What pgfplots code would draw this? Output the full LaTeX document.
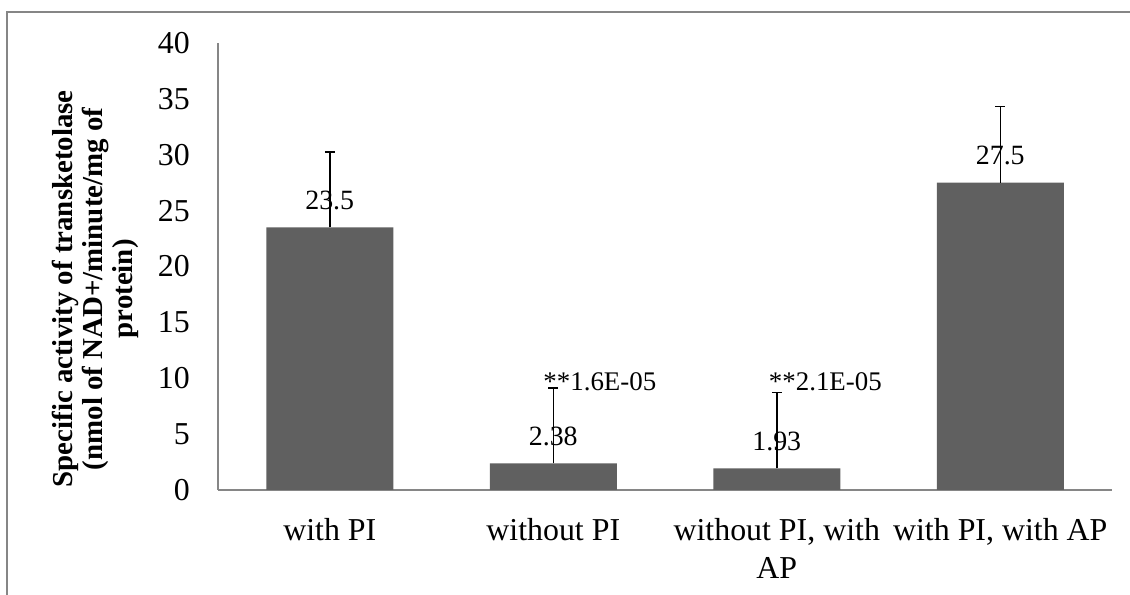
\documentclass[border=0pt]{standalone}
\usepackage{pgfplots}
\pgfplotsset{compat=1.18}
\usepackage{fontspec}
\setmainfont{Liberation Serif}
\definecolor{barc}{RGB}{96,96,96}
\definecolor{axc}{RGB}{134,134,134}
\pgfplotstableread{
x y e lab
0 23.5 6.75 23.5
1 2.38 6.75 2.38
2 1.93 6.8 1.93
3 27.5 6.8 27.5
}\datatab
\begin{document}
\begin{tikzpicture}[x=1bp,y=1bp]
\useasboundingbox (0,0) rectangle (1130,595);
\draw[axc, line width=1.5bp] (7,0) -- (7,583) -- (1130,583);
\begin{axis}[
  at={(218bp,105bp)}, anchor=south west,
  scale only axis, width=894bp, height=447bp,
  ymin=0, ymax=40, xmin=-0.5, xmax=3.5,
  axis x line*=bottom, axis y line*=left,
  axis line style={axc, line width=1.5bp},
  major tick length=0pt,
  ytick={0,5,...,40},
  xtick={0,1,2,3},
  xticklabels={with PI, without PI, {without PI, with\\AP}, {with PI, with AP}},
  xticklabel style={align=center, inner sep=0pt, yshift=-28bp, font=\fontsize{32}{38}\selectfont},
  yticklabel style={inner sep=0pt, xshift=-28bp, font=\fontsize{32}{36}\selectfont},
  /pgf/number format/assume math mode=true,
  ylabel={Specific activity of transketolase\\(nmol of NAD+/minute/mg of\\protein)},
  ylabel style={align=center, font=\bfseries\fontsize{29}{30}\selectfont, at={(axis description cs:-0.137,0.45)}, anchor=center, rotate=0},
  clip=false,
]
\addplot[ybar, fill=barc, draw=none, bar width=127bp,
  point meta=explicit symbolic,
  nodes near coords,
  every node near coord/.append style={anchor=center, yshift=27bp, font=\fontsize{28}{32}\selectfont, text=black},
  error bars/.cd, y dir=plus, y explicit,
  error bar style={black, line width=1.5bp},
  error mark options={rotate=90, mark size=5bp, black, line width=1.5bp}]
  table[x=x, y=y, y error=e, meta=lab] {\datatab};
\node[anchor=west, inner sep=0pt, font=\fontsize{27}{30}\selectfont, xshift=-10bp] at (axis cs:1,9.66) {**1.6E-05};
\node[anchor=west, inner sep=0pt, font=\fontsize{27}{30}\selectfont, xshift=-8bp] at (axis cs:2,9.66) {**2.1E-05};
\end{axis}
\end{tikzpicture}
\end{document}
